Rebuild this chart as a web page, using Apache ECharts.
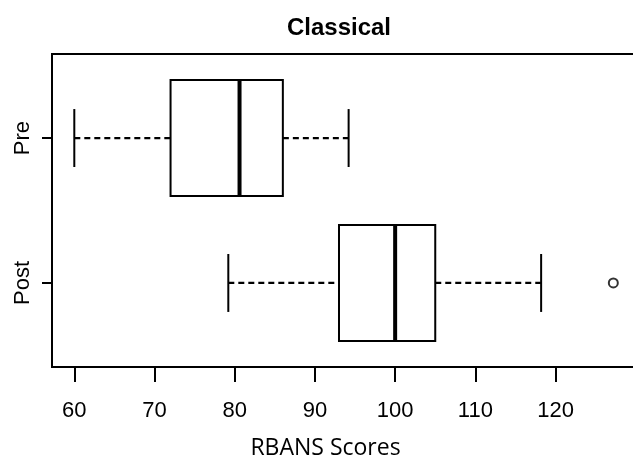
<!DOCTYPE html>
<html>
<head>
<meta charset="utf-8">
<script src="https://cdn.jsdelivr.net/npm/echarts@6/dist/echarts.min.js"></script>
<style>html,body{margin:0;padding:0;background:#fff;}#c{width:633px;height:459px;}</style>
</head>
<body>
<div id="c"></div>
<script>
// ---- data ----
const groups = ['Pre', 'Post'];
const groupPos = [2, 1];              // y position of each group (Pre on top)
const preStats = [60, 72, 80.6, 86, 94.2];     // min, Q1, median, Q3, max
const postStats = [79.2, 93, 100, 105, 118.2];
const postOutliers = [127.2];
const xTicks = [60, 70, 80, 90, 100, 110, 120];
const titleText = 'Classical';
const xName = 'RBANS Scores';

const boxData = [
  [groupPos[0]].concat(preStats),
  [groupPos[1]].concat(postStats)
];
const outlierData = postOutliers.map(v => [v, groupPos[1]]);

const chart = echarts.init(document.getElementById('c'), null, {renderer: 'canvas'});

function renderBox(params, api) {
  const y = api.value(0);
  const mn = api.value(1), q1 = api.value(2), md = api.value(3), q3 = api.value(4), mx = api.value(5);
  const pMin = api.coord([mn, y]), pQ1 = api.coord([q1, y]), pMd = api.coord([md, y]);
  const pQ3 = api.coord([q3, y]), pMax = api.coord([mx, y]);
  const h = api.size([0, 0.8])[1];
  const cy = pMd[1];
  const top = cy - h / 2, bot = cy + h / 2;
  const cap = h / 4;
  const solid = {stroke: '#000', lineWidth: 2, fill: null};
  const dashed = {stroke: '#000', lineWidth: 2.2, lineDash: [6, 4], fill: null};
  return {
    type: 'group',
    children: [
      {type: 'line', shape: {x1: pMin[0], y1: cy, x2: pQ1[0], y2: cy}, style: dashed},
      {type: 'line', shape: {x1: pQ3[0], y1: cy, x2: pMax[0], y2: cy}, style: dashed},
      {type: 'line', shape: {x1: pMin[0], y1: cy - cap, x2: pMin[0], y2: cy + cap}, style: solid},
      {type: 'line', shape: {x1: pMax[0], y1: cy - cap, x2: pMax[0], y2: cy + cap}, style: solid},
      {type: 'rect', shape: {x: pQ1[0], y: top, width: pQ3[0] - pQ1[0], height: h},
        style: {stroke: '#000', lineWidth: 2, fill: '#fff'}},
      {type: 'line', shape: {x1: pMd[0], y1: top, x2: pMd[0], y2: bot},
        style: {stroke: '#000', lineWidth: 4}}
    ]
  };
}

chart.setOption({
  backgroundColor: '#fff',
  animation: false,
  title: {
    text: titleText,
    left: 334,
    top: 11,
    textAlign: 'center',
    textStyle: {fontFamily: 'Liberation Sans', fontWeight: 'bold', fontSize: 24, color: '#000'}
  },
  grid: {
    left: 52, top: 54, width: 591, height: 313,
    show: true, borderColor: '#000', borderWidth: 2, backgroundColor: 'transparent',
    containLabel: false,
    outerBoundsMode: 'none'
  },
  xAxis: {
    type: 'value',
    min: 57.22, max: 130.9,
    name: xName,
    nameLocation: 'middle',
    nameGap: 70,
    nameTextStyle: {fontFamily: 'Open Sans', fontSize: 23, color: '#000', padding: [0, 44, 0, 0]},
    axisLine: {show: true, lineStyle: {color: '#000', width: 2}},
    axisTick: {show: true, customValues: xTicks, length: 15, lineStyle: {color: '#000', width: 2}},
    axisLabel: {show: true, customValues: xTicks, margin: 33, fontFamily: 'Liberation Sans', fontSize: 22, color: '#000'},
    splitLine: {show: false}
  },
  yAxis: {
    type: 'value',
    min: 0.42, max: 2.58,
    axisLine: {show: true, lineStyle: {color: '#000', width: 2}},
    axisTick: {show: true, customValues: groupPos, length: 10, lineStyle: {color: '#000', width: 2}},
    axisLabel: {
      show: true, customValues: groupPos, rotate: 90, margin: 18,
      fontFamily: 'Liberation Sans', fontSize: 22, color: '#000',
      formatter: function (v) { const i = groupPos.indexOf(v); return i >= 0 ? groups[i] : ''; }
    },
    splitLine: {show: false}
  },
  series: [
    {
      type: 'custom',
      renderItem: renderBox,
      data: boxData,
      encode: {x: [1, 2, 3, 4, 5], y: 0},
      clip: false,
      silent: true
    },
    {
      type: 'scatter',
      data: outlierData,
      symbol: 'circle',
      symbolSize: 9,
      itemStyle: {color: '#fff', borderColor: '#000', borderWidth: 2},
      silent: true
    }
  ]
});
</script>
</body>
</html>
